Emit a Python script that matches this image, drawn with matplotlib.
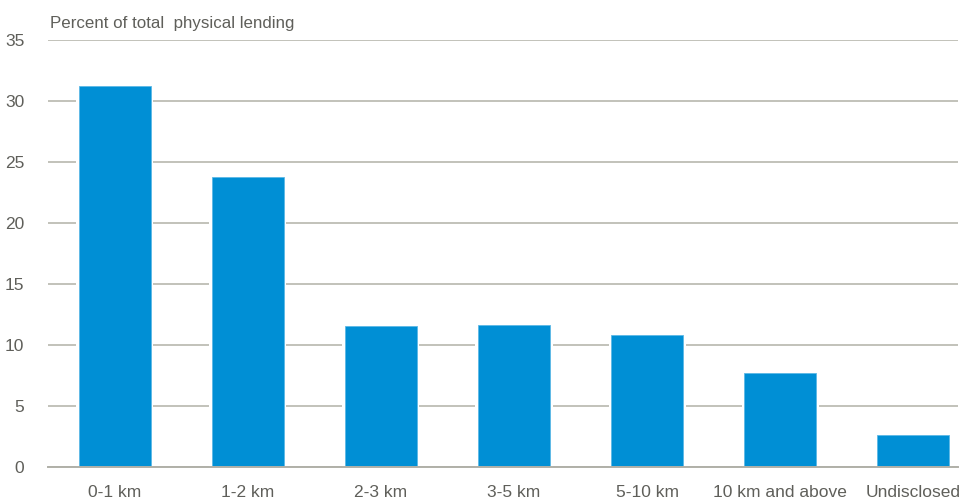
import matplotlib.pyplot as plt
from matplotlib import font_manager

names = {f.name for f in font_manager.fontManager.ttflist}
family = 'Liberation Sans Narrow' if 'Liberation Sans Narrow' in names else 'Liberation Sans'
plt.rcParams['font.family'] = [family, 'DejaVu Sans']

categories = ['0-1 km', '1-2 km', '2-3 km', '3-5 km', '5-10 km', '10 km and above', 'Undisclosed']
values = [31.2, 23.8, 11.5, 11.6, 10.8, 7.7, 2.6]
yticks = [0, 5, 10, 15, 20, 25, 30, 35]

bar_color = '#008fd5'
text_color = '#5f5f5a'
grid_color = '#bdbdb4'

fig = plt.figure(figsize=(9.67, 4.99), dpi=100)
ax = fig.add_axes([48 / 967, 1 - 466.7 / 499, 910 / 967, (466.7 - 40) / 499])

x = range(len(categories))
# white gap around bars that cuts the gridlines
ax.bar(x, values, width=0.58, color='white', zorder=2)
ax.bar(x, values, width=0.54, color=bar_color, edgecolor='#5cb8e6', linewidth=0.6, zorder=3)

ax.set_xlim(-0.5, 6.335)
ax.set_ylim(0, 35)
ax.set_yticks(yticks)
ax.set_xticks(list(x))
ax.set_xticklabels(categories)
ax.yaxis.grid(True, color=grid_color, lw=1.3, zorder=1)
ax.set_axisbelow(True)
for s in ['top', 'right', 'left']:
    ax.spines[s].set_visible(False)
ax.spines['bottom'].set_color('#b0b0a8')
ax.spines['bottom'].set_linewidth(1.4)
ax.spines['bottom'].set_zorder(4)
ax.tick_params(axis='both', length=0, labelsize=12.5, colors=text_color)
ax.tick_params(axis='y', pad=17)
ax.tick_params(axis='x', pad=13)

fig.text(50 / 967, 1 - 28 / 499, 'Percent of total  physical lending',
         fontsize=12.2, color=text_color, va='baseline', ha='left')

fig.savefig('out.png', dpi=100)
